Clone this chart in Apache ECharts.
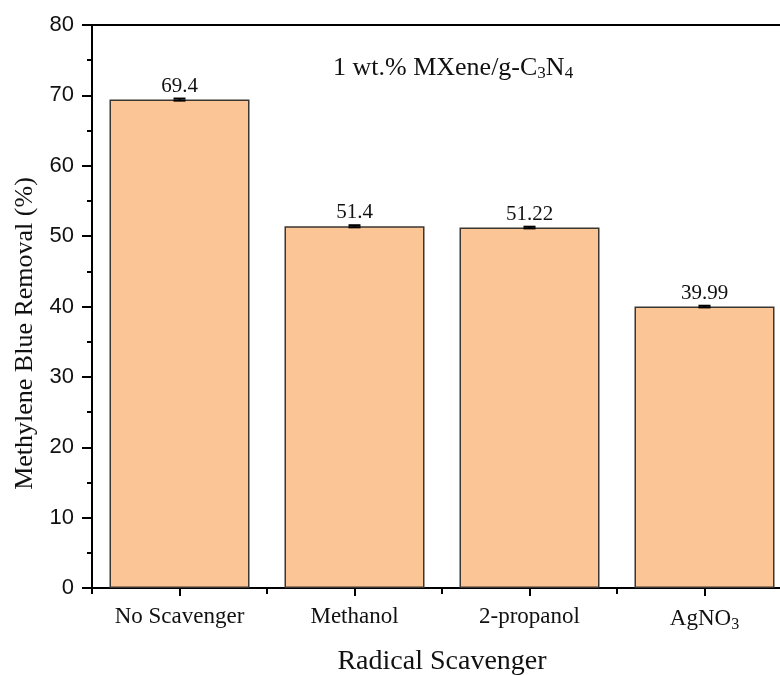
<!DOCTYPE html>
<html>
<head>
<meta charset="utf-8">
<script src="https://cdn.jsdelivr.net/npm/echarts@6/dist/echarts.min.js"></script>
<style>
html, body { margin: 0; padding: 0; background: #fff; }
#main { width: 780px; height: 675px; }
</style>
</head>
<body>
<div id="main"></div>
<script>
// data
var categories = ['No Scavenger', 'Methanol', '2-propanol', 'AgNO3'];
var removal = [69.4, 51.4, 51.22, 39.99];
var errors = [0.15, 0.15, 0.12, 0.12];
var barLabels = ['69.4', '51.4', '51.22', '39.99'];

var serif = '"Liberation Serif", "DejaVu Serif", serif';
var sans = '"Liberation Sans", Arial, sans-serif';

var chart = echarts.init(document.getElementById('main'));

var errData = removal.map(function (v, i) { return [i, v, errors[i]]; });

var option = {
    backgroundColor: '#fff',
    animation: false,
    grid: {
        left: 92, top: 25, bottom: 87, width: 700,
        outerBoundsMode: 'none',
        containLabel: false,
        show: true, borderColor: '#000', borderWidth: 2, backgroundColor: 'transparent'
    },
    graphic: [{
        type: 'text',
        left: 333, top: 55,
        style: {
            text: '1 wt.% MXene/g-C{sub|3}N{sub|4}',
            fontFamily: serif, fontSize: 26, fill: '#111',
            rich: { sub: { fontFamily: serif, fontSize: 17, padding: [12, 0, 0, 0], fill: '#111' } }
        }
    }],
    xAxis: [{
        type: 'category',
        data: categories,
        position: 'bottom',
        axisLine: { lineStyle: { color: '#000', width: 2 } },
        axisTick: { show: true, alignWithLabel: false, length: 6, lineStyle: { color: '#000', width: 2 } },
        axisLabel: {
            margin: 17, color: '#111', fontFamily: serif, fontSize: 23,
            formatter: function (v) { return v === 'AgNO3' ? 'AgNO{sub|3}' : v; },
            rich: { sub: { fontFamily: serif, fontSize: 16, padding: [12, 0, 0, 0], color: '#111' } }
        },
        name: 'Radical Scavenger',
        nameLocation: 'middle',
        nameGap: 60,
        nameTextStyle: { fontFamily: serif, fontSize: 28, color: '#111' }
    }, {
        type: 'category',
        data: categories,
        position: 'bottom',
        axisLine: { show: false },
        axisTick: { show: true, alignWithLabel: true, length: 8, lineStyle: { color: '#000', width: 2 } },
        axisLabel: { show: false }
    }],
    yAxis: {
        type: 'value',
        min: 0, max: 80, interval: 10,
        axisLine: { show: true, lineStyle: { color: '#000', width: 2 } },
        axisTick: { show: true, length: 10, lineStyle: { color: '#000', width: 2 } },
        minorTick: { show: true, splitNumber: 2, length: 5, lineStyle: { color: '#000', width: 2 } },
        splitLine: { show: false },
        axisLabel: { margin: 18, color: '#111', fontFamily: sans, fontSize: 22 },
        name: 'Methylene Blue Removal (%)',
        nameLocation: 'middle',
        nameGap: 52,
        nameTextStyle: { fontFamily: serif, fontSize: 26, color: '#111', padding: [0, 54, 0, 0] }
    },
    series: [{
        type: 'bar',
        data: removal,
        barCategoryGap: '20%',
        itemStyle: { color: '#FCC596', borderColor: '#3a3632', borderWidth: 1.5 },
        label: {
            show: true, position: 'top', distance: 3,
            fontFamily: serif, fontSize: 21, color: '#111',
            formatter: function (p) { return barLabels[p.dataIndex]; }
        },
        z: 2
    }, {
        type: 'custom',
        data: errData,
        z: 3,
        renderItem: function (params, api) {
            var x = api.value(0), v = api.value(1), e = api.value(2);
            var hi = api.coord([x, v + e]);
            var lo = api.coord([x, v - e]);
            var half = 6;
            return {
                type: 'group',
                children: [
                    { type: 'line', shape: { x1: hi[0], y1: hi[1], x2: lo[0], y2: lo[1] }, style: { stroke: '#000', lineWidth: 2 } },
                    { type: 'line', shape: { x1: hi[0] - half, y1: hi[1], x2: hi[0] + half, y2: hi[1] }, style: { stroke: '#000', lineWidth: 2 } },
                    { type: 'line', shape: { x1: lo[0] - half, y1: lo[1], x2: lo[0] + half, y2: lo[1] }, style: { stroke: '#000', lineWidth: 2 } }
                ]
            };
        }
    }]
};

chart.setOption(option);
</script>
</body>
</html>
